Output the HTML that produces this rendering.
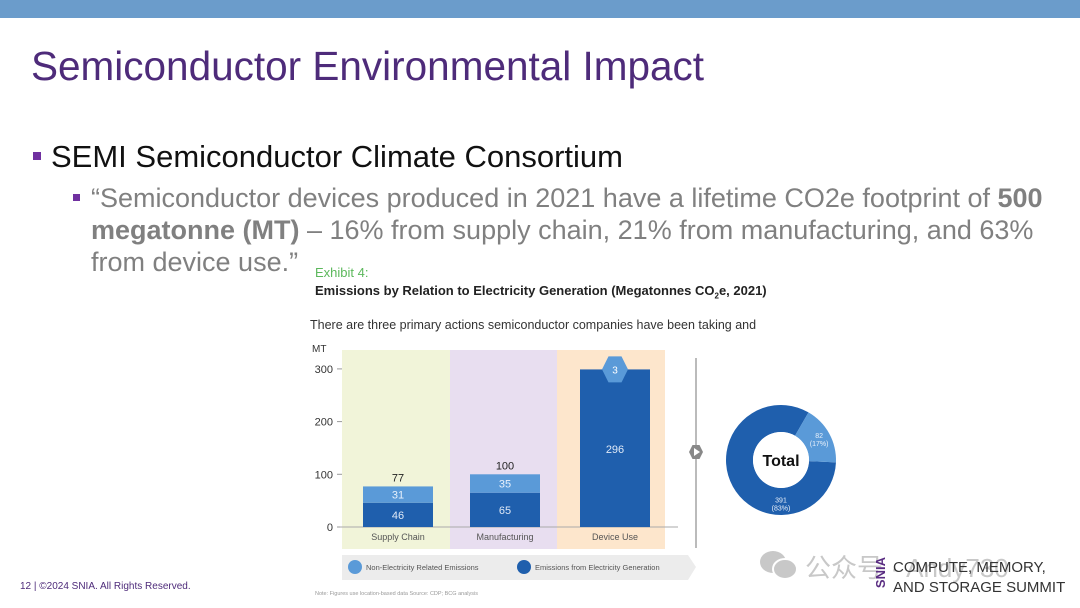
<!DOCTYPE html>
<html><head><meta charset="utf-8"><style>
body{margin:0;width:1080px;height:608px;overflow:hidden;background:#fff;font-family:"Liberation Sans","Noto Sans CJK SC",sans-serif;position:relative}
.abs{position:absolute;white-space:nowrap}
</style></head><body>
<div class="abs" style="left:0;top:0;width:1080px;height:18px;background:#6b9ccb"></div>
<div class="abs" style="left:31px;top:43px;font-size:40.5px;color:#4e2b7a">Semiconductor Environmental Impact</div>
<div class="abs" style="left:33px;top:139px;font-size:31px;color:#111"><span style="display:inline-block;width:8px;height:8px;background:#7030a0;vertical-align:middle;margin-right:10px;position:relative;top:-3px"></span>SEMI Semiconductor Climate Consortium</div>
<div class="abs" style="left:73px;top:182px;font-size:27px;line-height:32px;color:#808080;white-space:normal;width:990px"><span style="position:absolute;left:0;top:12px;width:7px;height:7px;background:#7030a0"></span><div style="margin-left:18px;width:962px">“Semiconductor devices produced in 2021 have a lifetime CO2e footprint of <b>500 megatonne (MT)</b> – 16% from supply chain, 21% from manufacturing, and 63% from device use.”</div></div>
<div class="abs" style="left:315px;top:265px;font-size:13px;color:#5cb85c">Exhibit 4:</div>
<div class="abs" style="left:315px;top:283px;font-size:13px;font-weight:bold;color:#222">Emissions by Relation to Electricity Generation (Megatonnes CO<sub style="font-size:8px">2</sub>e, 2021)</div>
<div class="abs" style="left:310px;top:318px;font-size:12.5px;color:#333">There are three primary actions semiconductor companies have been taking and</div>
<svg class="abs" style="left:0;top:0" width="1080" height="608">
<g id="g"></g>
</svg>
<div class="abs" style="left:20px;top:581px;font-size:10px;color:#4e2b7a">12 | ©2024 SNIA. All Rights Reserved.</div>
<svg class="abs" style="left:758px;top:548px" width="42" height="34"><ellipse cx="15" cy="14" rx="13" ry="11" fill="#c8c8c8"/><ellipse cx="27" cy="21" rx="12" ry="10" fill="#c8c8c8" stroke="#fff" stroke-width="2"/></svg>
<div class="abs" style="left:805px;top:548px;font-size:26px;color:#c8c8c8">公众号 · Andy730</div>
<div class="abs" style="left:873px;top:557px;font-size:13px;color:#5a2d82;writing-mode:vertical-rl;transform:rotate(180deg);font-weight:bold">SNIA</div>
<div class="abs" style="left:893px;top:558px;font-size:15px;line-height:20px;color:#333">COMPUTE, MEMORY,<br>AND STORAGE SUMMIT</div>
<script>
const categories=["Supply Chain","Manufacturing","Device Use"];
const elecValues=[46,65,296];
const nonElecValues=[31,35,3];
const totals=[77,100,300];
const yTicks=[0,100,200,300];
const donutValues=[391,82];
const donutLabels=["391","82"];
const donutPct=["(83%)","(17%)"];
const NS="http://www.w3.org/2000/svg";
const g=document.getElementById('g');
function mk(t,a,txt){const e=document.createElementNS(NS,t);for(const k in a)e.setAttribute(k,a[k]);if(txt!==undefined)e.textContent=txt;g.appendChild(e);return e;}
const y0=527,ppu=0.527;
const y=v=>y0-v*ppu;
const panelX=[342,450,557],panelW=[108,107,108],panelC=["#f1f4d9","#e8def0","#fde6cc"];
const barX=[363,470,580];
const DARK="#1f5fad",LIGHT="#5a9ad8";
categories.forEach((c,i)=>{
 let p=mk('rect',{x:panelX[i],y:350,width:panelW[i],height:199,fill:panelC[i]});
 
 
});
mk('text',{x:312,y:352,'font-size':10,fill:'#333'},'MT');
yTicks.forEach(t=>{let e=mk('text',{x:333,y:y(t)+4,'font-size':11,fill:'#333','text-anchor':'end'},t);
 
 
 mk('line',{x1:337,x2:342,y1:y(t),y2:y(t),stroke:'#999'});});
mk('line',{x1:340,x2:678,y1:y0,y2:y0,stroke:'#aaa'});
categories.forEach((c,i)=>{
 const x=barX[i],w=70;
 const total=elecValues[i]+nonElecValues[i];
 const top=y(total);
 if(i<2){
  let b=mk('rect',{x:x,y:y(elecValues[i]),width:w,height:elecValues[i]*ppu,fill:DARK});
  
  
  let b2=mk('rect',{x:x,y:top,width:w,height:nonElecValues[i]*ppu,fill:LIGHT});
  
  
  mk('text',{x:x+w/2,y:y(elecValues[i]/2)+4,'font-size':11,fill:'#dfe9f7','text-anchor':'middle'},elecValues[i]);
  mk('text',{x:x+w/2,y:y(elecValues[i]+nonElecValues[i]/2)+4,'font-size':11,fill:'#e6f0fb','text-anchor':'middle'},nonElecValues[i]);
  mk('text',{x:x+w/2,y:top-5,'font-size':11,fill:'#222','text-anchor':'middle'},totals[i]);
 }else{
  let b=mk('rect',{x:x,y:top,width:w,height:total*ppu,fill:DARK});
  
  
  const cy=top,cx=x+w/2,r=13;
  let h=mk('polygon',{points:[[cx-r,cy],[cx-r/2,cy-r],[cx+r/2,cy-r],[cx+r,cy],[cx+r/2,cy+r],[cx-r/2,cy+r]].map(p=>p.join(',')).join(' '),fill:LIGHT});
  
  
  mk('text',{x:cx,y:cy+4,'font-size':10,fill:'#fff','text-anchor':'middle'},nonElecValues[i]);
  mk('text',{x:cx,y:y(elecValues[i]/2)+4,'font-size':11,fill:'#dfe9f7','text-anchor':'middle'},elecValues[i]);
 }
 let l=mk('text',{x:x+w/2,y:540,'font-size':9,fill:'#555','text-anchor':'middle'},c);
 
 
});
mk('line',{x1:696,x2:696,y1:358,y2:548,stroke:'#bbb','stroke-width':2});
mk('polygon',{points:'689,452 692.5,445 699.5,445 703,452 699.5,459 692.5,459',fill:'#888'});
mk('polygon',{points:'694,448 694,456 700,452',fill:'#fff'});
let lg=mk('polygon',{points:'342,555 688,555 696,567 688,580 342,580',fill:'#ececec'});


mk('circle',{cx:355,cy:567,r:7,fill:LIGHT});
mk('text',{x:366,y:570,'font-size':7.5,fill:'#555'},'Non-Electricity Related Emissions');
mk('circle',{cx:524,cy:567,r:7,fill:DARK});
mk('text',{x:535,y:570,'font-size':7.5,fill:'#555'},'Emissions from Electricity Generation');
mk('text',{x:315,y:595,'font-size':5.5,fill:'#999'},'Note: Figures use location-based data Source: CDP; BCG analysis');
// donut
const cx=781,cy=460,R=55,ri=28;
const tot=donutValues.reduce((a,b)=>a+b,0);
const lightSpan=donutValues[1]/tot*360,lightStart=30;
const segs=[[lightStart+lightSpan,lightStart+360,DARK,0,180],[lightStart,lightStart+lightSpan,LIGHT,1,lightStart+lightSpan/2]];
function pt(r,d){const t=(d-90)*Math.PI/180;return [cx+r*Math.cos(t),cy+r*Math.sin(t)];}
segs.forEach(([s,e,col,k,la])=>{
 const [x1,y1]=pt(R,s),[x2,y2]=pt(R,e),[x3,y3]=pt(ri,e),[x4,y4]=pt(ri,s);const lg=(e-s)>180?1:0;
 let p=mk('path',{d:`M${x1},${y1}A${R},${R} 0 ${lg} 1 ${x2},${y2}L${x3},${y3}A${ri},${ri} 0 ${lg} 0 ${x4},${y4}Z`,fill:col});
 
 
 const [tx,ty]=pt((R+ri)/2+2,la);
 mk('text',{x:tx,y:ty-1,'font-size':7,fill:'#e8f0fa','text-anchor':'middle'},donutLabels[k]);
 mk('text',{x:tx,y:ty+7,'font-size':7,fill:'#e8f0fa','text-anchor':'middle'},donutPct[k]);
});
mk('circle',{cx:cx,cy:cy,r:ri,fill:'#fff'});
mk('text',{x:cx,y:cy+6,'font-size':16,'font-weight':'bold',fill:'#111','text-anchor':'middle'},'Total');
</script>
</body></html>
